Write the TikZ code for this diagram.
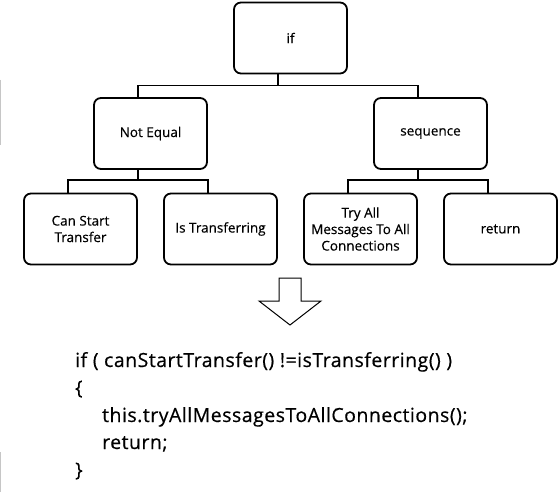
\documentclass[tikz,border=0pt]{standalone}
\usepackage{fontspec}
\setmainfont{Open Sans}[FakeBold=0.4]
\newfontfamily\codefont{Open Sans}[LetterSpace=2.5, FakeBold=0.5]
\begin{document}
\begin{tikzpicture}[x=1pt, y=-1pt, font=\fontsize{13.5}{16.5}\selectfont,
    caja/.style={draw, line width=1.8pt, rounded corners=7pt, minimum width=113pt,
        minimum height=71pt, align=center, inner sep=2pt},
    rama/.style={line width=1.6pt},
    codigo/.style={anchor=base west, inner sep=0pt, font=\codefont\fontsize{19.5}{20}\selectfont}]
    \useasboundingbox (0,0) rectangle (560,492);

    % --- Marcas grises del borde ---
    \draw[gray!45, line width=0.8pt] (0.5,80) -- (0.5,145);
    \draw[gray!45, line width=0.8pt] (0.5,452) -- (0.5,492);

    % --- Nodos del arbol ---
    \node[caja] (raiz) at (290.5,38) {if};
    \node[caja] (noigual) at (150.5,133.5) {Not Equal};
    \node[caja] (secuencia) at (430.5,133.5) {sequence};
    \node[caja] (puede) at (80.5,229) {Can Start\\Transfer};
    \node[caja] (transf) at (220.5,229) {Is Transferring};
    \node[caja] (intenta) at (360.5,229) {Try All\\Messages To All\\Connections};
    \node[caja] (retorno) at (500.5,229) {return};

    % --- Ramas: if -> hijos ---
    \draw[rama] ([xshift=-12.5pt]raiz.south) -- ++(0,11) coordinate (j0);
    \draw[rama] (j0) -| ([xshift=-12.5pt]noigual.north);
    \draw[rama] (j0) -| ([xshift=-12.5pt]secuencia.north);

    % --- Ramas: Not Equal -> hojas ---
    \draw[rama] ([xshift=-12.5pt]noigual.south) -- ++(0,10) coordinate (j1);
    \draw[rama] (j1) -| ([xshift=-12.5pt]puede.north);
    \draw[rama] (j1) -| ([xshift=-12.5pt]transf.north);

    % --- Ramas: sequence -> hojas ---
    \draw[rama] ([xshift=-12.5pt]secuencia.south) -- ++(0,10) coordinate (j2);
    \draw[rama] (j2) -| ([xshift=-12.5pt]intenta.north);
    \draw[rama] (j2) -| ([xshift=-12.5pt]retorno.north);

    % --- Flecha hueca hacia el codigo ---
    \draw[line width=1pt, line join=miter] (279,278) -- (301,278) -- (301,301) -- (321,301)
        -- (290,325) -- (259,301) -- (279,301) -- cycle;

    % --- Codigo resultante ---
    \node[codigo] (l1) at (75,367) {if ( canStartTransfer() !=isTransferring() )};
    \node[codigo] (l2) at (75,394.5) {\{};
    \node[codigo] (l3) at (102,422) {this.tryAllMessagesToAllConnections();};
    \node[codigo] (l4) at (102,449) {return;};
    \node[codigo] (l5) at (75,476.5) {\}};
\end{tikzpicture}
\end{document}
